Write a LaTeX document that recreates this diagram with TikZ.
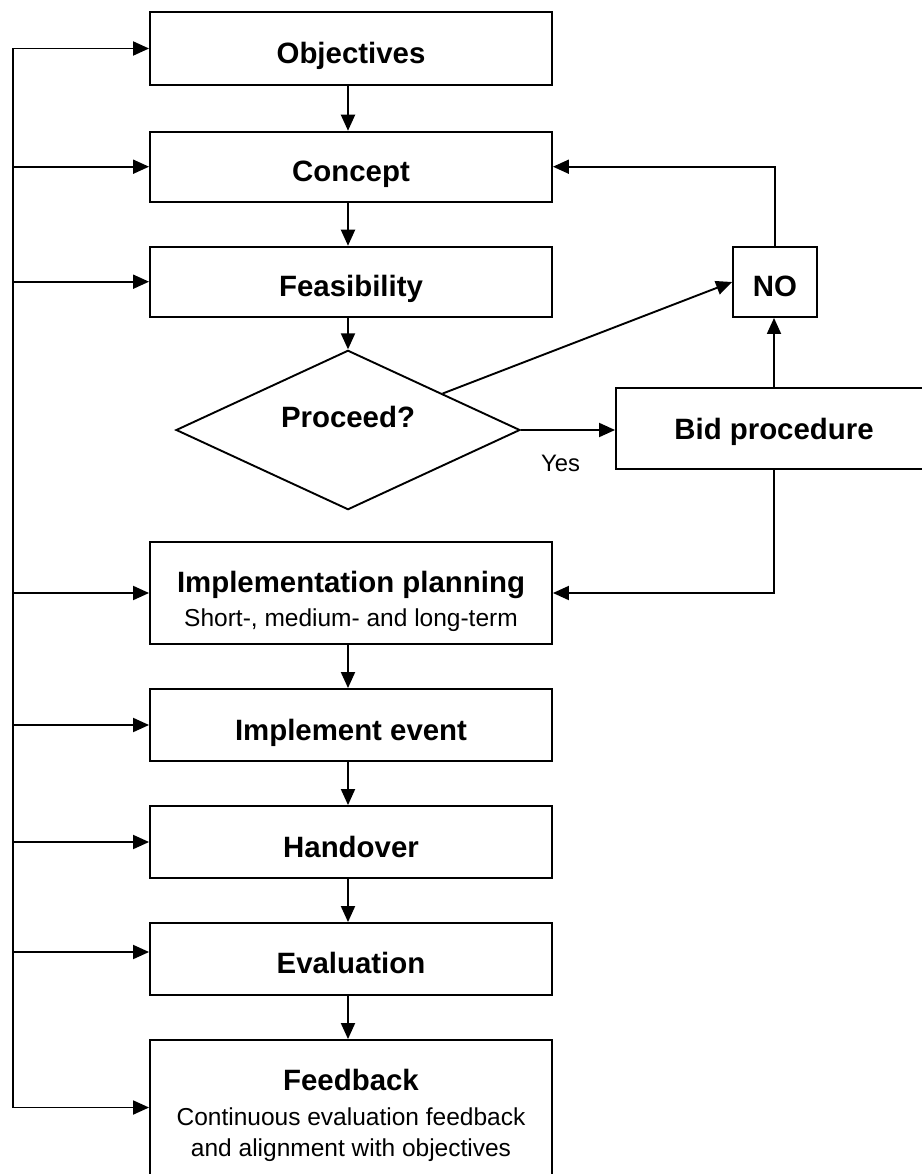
\documentclass[tikz,border=0pt]{standalone}
\usepackage{fontspec}
\setmainfont{Liberation Sans}
\usetikzlibrary{arrows.meta,shapes.geometric}
\begin{document}
\begin{tikzpicture}[x=1pt,y=-1pt,
  line width=1.9pt,
  tip/.tip={Triangle[length=16pt,width=14pt]},
  arr/.style={-tip},
  arrboth/.style={tip-tip},
  titlefont/.style={font=\bfseries\fontsize{29.4}{35}\selectfont},
  subfont/.style={font=\fontsize{24.5}{30}\selectfont},
  box/.style={draw, rectangle, inner sep=0pt, minimum width=402pt,
    titlefont, text height=30pt, text depth=0pt},
  decision/.style={draw, diamond, inner sep=0pt, minimum width=344pt,
    minimum height=136pt, titlefont, text height=10pt, text depth=15.4pt},
  txt/.style={inner sep=0pt, anchor=base}
]
\useasboundingbox (0,0) rectangle (921,1174);

% main column of process steps
\node[box, minimum height=73pt] (obj) at (351,48.5) {Objectives};
\node[box, minimum height=70pt] (con) at (351,166.7) {Concept};
\node[box, minimum height=70pt] (fea) at (351,281.7) {Feasibility};
\node[decision] (dia) at (348,430) {Proceed?};
\node[box, minimum height=102pt] (imp) at (351,593) {};
\node[txt, titlefont] (impT) at (351,592.7) {Implementation planning};
\node[txt, subfont] (impS) at (351,626) {Short-, medium- and long-term};
\node[box, minimum height=72pt] (ev) at (351,725) {Implement event};
\node[box, minimum height=72pt] (han) at (351,842) {Handover};
\node[box, minimum height=72pt, text height=28.6pt] (eva) at (351,959) {Evaluation};
\node[box, minimum height=135pt] (fb) at (351,1107.5) {};
\node[txt, titlefont] (fbT) at (351,1090.7) {Feedback};
\node[txt, subfont] (fbA) at (351,1125) {Continuous evaluation feedback};
\node[txt, subfont] (fbB) at (351,1156.7) {and alignment with objectives};

% side branch
\node[box, minimum width=316pt, minimum height=81pt, text height=21.6pt] (bid) at (774,428.5) {Bid procedure};
\node[box, minimum width=84pt, minimum height=70pt, text height=29.4pt] (no) at (775,282) {NO};
\node[txt, font=\fontsize{23.8}{29}\selectfont] (yes) at (560.5,471.7) {Yes};

% helper coordinates
\coordinate (col) at (348,0);
\coordinate (ttop) at (13,48.5);
\coordinate (tbot) at (13,1107.5);
\coordinate (evaIn) at ([yshift=7pt]eva.west);

% vertical flow
\draw[arr] (col |- obj.south) -- (col |- con.north);
\draw[arr] (col |- con.south) -- (col |- fea.north);
\draw[arr] (col |- fea.south) -- (dia.north);
\draw[arr] (col |- imp.south) -- (col |- ev.north);
\draw[arr] (col |- ev.south) -- (col |- han.north);
\draw[arr] (col |- han.south) -- (col |- eva.north);
\draw[arr] (col |- eva.south) -- (col |- fb.north);

% decision branches
\draw[arr] (dia.east) -- (dia.east -| bid.west);
\draw[arr] (dia) -- (no.west);
\draw[arr] (bid.north) -- (bid.north |- no.south);
\draw[arr] (no.north) |- (con.east);
\draw[arr] (bid.south) |- (imp.east);

% feedback trunk on the left
\draw[arrboth] (obj.west) -- (ttop) -- (tbot) -- (fb.west);
\draw[arr] (ttop |- con.west) -- (con.west);
\draw[arr] (ttop |- fea.west) -- (fea.west);
\draw[arr] (ttop |- imp.west) -- (imp.west);
\draw[arr] (ttop |- ev.west) -- (ev.west);
\draw[arr] (ttop |- han.west) -- (han.west);
\draw[arr] (ttop |- evaIn) -- (evaIn);
\end{tikzpicture}
\end{document}
